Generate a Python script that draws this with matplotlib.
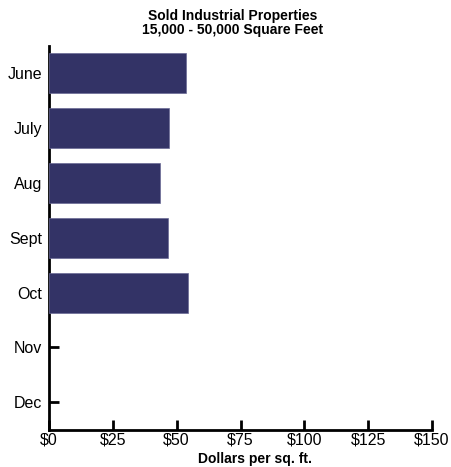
import matplotlib
matplotlib.use("Agg")
import matplotlib.pyplot as plt
import numpy as np

# price per sq. ft. by month
months = ["June", "July", "Aug", "Sept", "Oct", "Nov", "Dec"]
price = [53.5, 46.9, 43.4, 46.7, 54.4, np.nan, np.nan]
xticks = [0, 25, 50, 75, 100, 125, 150]
xlabels = ["$0", "$25", "$50", "$75", "$100", "$125", "$150"]

plt.rcParams["font.family"] = ["Liberation Sans", "DejaVu Sans"]

fig = plt.figure(figsize=(4.51, 4.67), dpi=100)
ax = fig.add_axes([49 / 451, 1 - 429.5 / 467, 383 / 451, 383.5 / 467])

y = np.arange(len(months))
ax.barh(y, price, height=0.73, color="#333366", edgecolor="#6a6a95", linewidth=0.5, zorder=3)

ax.set_ylim(6.5, -0.5)
ax.set_xlim(0, 150)
ax.set_yticks(y)
ax.set_yticklabels(months, fontsize=11.5)
ax.set_xticks(xticks)
ax.set_xticklabels(xlabels, fontsize=11.5)

for s in ["top", "right"]:
    ax.spines[s].set_visible(False)
for s in ["left", "bottom"]:
    ax.spines[s].set_linewidth(2)
ax.tick_params(axis="both", direction="in", length=7, width=2)
ax.tick_params(axis="y", pad=5)
ax.tick_params(axis="x", pad=2)

fig.text(233 / 451, 1 - 23 / 467, "Sold Industrial Properties\n15,000 - 50,000 Square Feet",
         ha="center", va="center", fontsize=10, fontweight="bold", linespacing=1.05)
fig.text(255 / 451, 1 - 459 / 467, "Dollars per sq. ft.", ha="center", va="center",
         fontsize=10, fontweight="bold")

fig.savefig("out.png", dpi=100)
